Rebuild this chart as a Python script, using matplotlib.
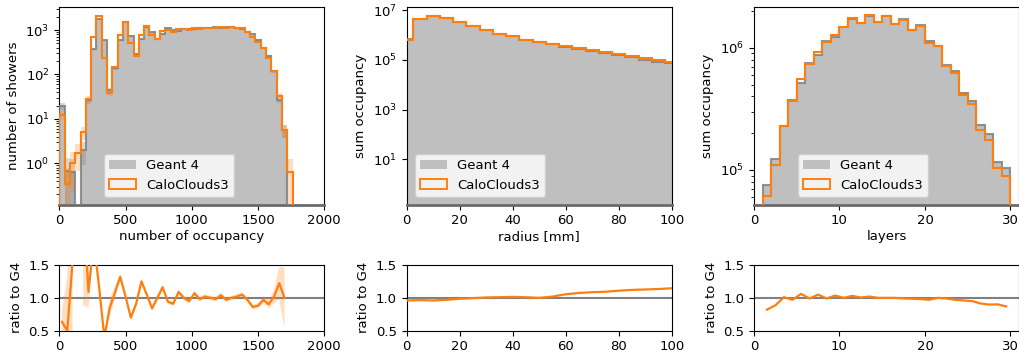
import numpy as np
import matplotlib
matplotlib.use("Agg")
import matplotlib.pyplot as plt
from matplotlib.patches import Patch

plt.rcParams['font.family'] = ['DejaVu Sans']
plt.rcParams['font.size'] = 9.5

# ---------------- data ----------------
occ_edges = np.linspace(0, 2000, 51)
occ_g4 = [19.5, 0.68, 0.65, 0, 2.0, 26, 367, 1750, 590, 45, 138, 600, 1500, 740, 290,
          620, 1170, 900, 620, 800, 1090, 1000, 960, 1060, 1080, 1050, 1100, 1110, 1130,
          1150, 1130, 1170, 1140, 1110, 1060, 920, 830, 600, 400, 265, 118, 27, 5.5, 0,
          0, 0, 0, 0, 0, 0]
occ_cc = [12.4, 0.34, 1.0, 1.67, 5.0, 28.3, 686, 2050, 236, 38, 149, 792, 1530, 518, 264,
          775, 1229, 756, 620, 928, 1025, 910, 1046, 1060, 1026, 1124, 1078, 1132, 1130,
          1127, 1175, 1135, 1140, 1132, 1113, 892, 714, 528, 388, 239, 120, 33, 5.5, 0.65,
          0, 0, 0, 0, 0, 0]
occ_weight = 0.6  # per-shower normalisation weight used for the Poisson bands

rad_edges = np.arange(-2.5, 103, 5.0)
rad_g4 = [6.77e5, 4.35e6, 5.94e6, 4.74e6, 3.35e6, 2.27e6, 1.55e6, 1.129e6, 8.77e5, 6.44e5,
          5.1e5, 4.22e5, 3.32e5, 2.70e5, 2.21e5, 1.83e5, 1.56e5, 1.24e5, 1.02e5, 8.46e4, 7.42e4]
rad_cc = [6.5e5, 4.2e6, 5.7e6, 4.6e6, 3.3e6, 2.26e6, 1.56e6, 1.14e6, 8.9e5, 6.5e5,
          5.1e5, 4.3e5, 3.5e5, 2.9e5, 2.4e5, 2.0e5, 1.73e5, 1.39e5, 1.15e5, 9.6e4, 8.5e4]

lay_edges = np.arange(1, 31)
lay_g4 = [7.5e4, 1.23e5, 2.27e5, 3.76e5, 5.2e5, 7.45e5, 8.8e5, 1.13e6, 1.23e6, 1.47e6,
          1.71e6, 1.6e6, 1.82e6, 1.62e6, 1.82e6, 1.57e6, 1.71e6, 1.41e6, 1.55e6, 1.13e6,
          1.03e6, 7.2e5, 6.4e5, 4.27e5, 3.64e5, 2.33e5, 1.96e5, 1.16e5, 1.03e5]
lay_cc = [6.15e4, 1.089e5, 2.293e5, 3.647e5, 5.512e5, 7.376e5, 9.24e5, 1.119e6, 1.273e6, 1.47e6,
          1.761e6, 1.608e6, 1.856e6, 1.62e6, 1.82e6, 1.57e6, 1.693e6, 1.39e6, 1.519e6, 1.096e6,
          1.03e6, 7.13e5, 6.21e5, 4.10e5, 3.46e5, 2.13e5, 1.76e5, 1.045e5, 8.96e4]

labels = ["Geant 4", "CaloClouds3"]
xlabels = ["number of occupancy", "radius [mm]", "layers"]
ylabels = ["number of showers", "sum occupancy", "sum occupancy"]

ORANGE = "#ff7f0e"
SILVER = "#bfbfbf"
EDGE = "#808080"

W, H = 1019, 355
fig = plt.figure(figsize=(W / 100, H / 100), dpi=100)

lefts = [59.3, 406.7, 754.0]
aw = 265.0
main_top, main_bot = 6.7, 204.7
rat_top, rat_bot = 265.0, 330.7


def ax_at(x0, ytop, ybot):
    return fig.add_axes([x0 / W, 1 - ybot / H, aw / W, (ybot - ytop) / H])


panels = [
    dict(edges=occ_edges, g4=occ_g4, cc=occ_cc, w=occ_weight, xlim=(0, 2000),
         ylim=(0.117, 3350), xticks=[0, 500, 1000, 1500, 2000], leg=(0.169, 0.039)),
    dict(edges=rad_edges, g4=rad_g4, cc=rad_cc, w=None, xlim=(0, 100),
         ylim=(0.148, 1.37e7), xticks=[0, 20, 40, 60, 80, 100], leg=(0.031, 0.039)),
    dict(edges=lay_edges, g4=lay_g4, cc=lay_cc, w=None, xlim=(0, 31),
         ylim=(5.2e4, 2.17e6), xticks=[0, 10, 20, 30], leg=(0.166, 0.039)),
]

for i, p in enumerate(panels):
    edges = np.asarray(p["edges"], float)
    g4 = np.asarray(p["g4"], float)
    cc = np.asarray(p["cc"], float)
    centers = 0.5 * (edges[1:] + edges[:-1])
    base = p["ylim"][0] * 1e-3

    ax = ax_at(lefts[i], main_top, main_bot)
    ax.set_yscale("log")
    ax.stairs(g4, edges, baseline=base, fill=True, color=SILVER, lw=0, zorder=1)
    if p["w"] is not None:
        eg = np.sqrt(g4 * p["w"])
        ec = np.sqrt(cc * p["w"])
        ax.stairs(g4 + eg, edges, baseline=np.where(g4 - eg > 0, g4 - eg, base),
                  fill=True, color="gray", alpha=0.3, lw=0, zorder=2)
        ax.stairs(cc + ec, edges, baseline=np.where(cc - ec > 0, cc - ec, base),
                  fill=True, color=ORANGE, alpha=0.25, lw=0, zorder=3)
    ax.stairs(g4, edges, baseline=base, fill=False, color=EDGE, lw=1.5, alpha=0.85, zorder=4)
    ax.stairs(cc, edges, baseline=base, fill=False, color=ORANGE, lw=1.5, zorder=5)
    ax.set_xlim(*p["xlim"])
    ax.set_ylim(*p["ylim"])
    ax.set_xticks(p["xticks"])
    ax.set_xlabel(xlabels[i], labelpad=2)
    ax.set_ylabel(ylabels[i])
    ax.spines["bottom"].set_linewidth(2.0)
    ax.spines["bottom"].set_color("#6a6a6a")
    handles = [Patch(facecolor=SILVER, edgecolor="none"),
               Patch(facecolor="none", edgecolor=ORANGE, lw=1.4)]
    ax.legend(handles, labels, loc="lower left", bbox_to_anchor=p["leg"],
              borderaxespad=0, fontsize=9.5)

    # ratio panel
    axr = ax_at(lefts[i], rat_top, rat_bot)
    with np.errstate(divide="ignore", invalid="ignore"):
        ratio = np.where(g4 > 0, cc / g4, np.nan)
        if p["w"] is not None:
            rerr = ratio * np.sqrt(p["w"] / cc + p["w"] / g4)
        else:
            rerr = None
    axr.axhline(1.0, color="gray", lw=1.5, zorder=1)
    if rerr is not None:
        axr.fill_between(centers, ratio - rerr, ratio + rerr, color=ORANGE, alpha=0.25,
                         lw=0, zorder=2)
    axr.plot(centers, ratio, color=ORANGE, lw=1.6, zorder=3)
    axr.set_xlim(*p["xlim"])
    axr.set_ylim(0.5, 1.5)
    axr.set_yticks([0.5, 1.0, 1.5])
    axr.set_xticks(p["xticks"])
    axr.set_ylabel("ratio to G4")

fig.savefig("out.png", dpi=100)
